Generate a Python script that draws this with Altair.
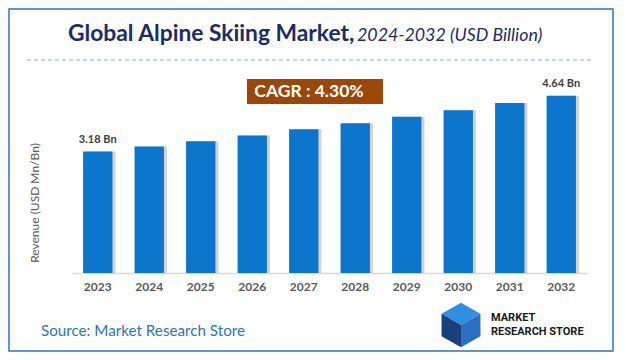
import altair as alt
import pandas as pd

years = ["2023", "2024", "2025", "2026", "2027", "2028", "2029", "2030", "2031", "2032"]
values = [3.18, 3.31, 3.45, 3.60, 3.76, 3.92, 4.09, 4.26, 4.45, 4.64]

title_main = "Global Alpine Skiing Market,"
title_sub = "2024-2032 (USD Billion)"
cagr_text = "CAGR : 4.30%"
y_title = "Revenue (USD Mn/Bn)"
source_text = "Source: Market Research Store"
logo_lines = ["MARKET", "RESEARCH STORE"]

FONT = "Lato"

df = pd.DataFrame({"year": years, "value": values})
ends = df.iloc[[0, -1]].copy()
ends["label"] = ends["value"].map(lambda v: f"{v:.2f} Bn")

x_enc = alt.X(
    "year:N",
    sort=years,
    scale=alt.Scale(paddingInner=0.43, paddingOuter=0.215),
    axis=alt.Axis(
        title=None, labelAngle=0, labelFont=FONT, labelFontWeight="bold",
        labelFontSize=12, labelColor="#595959", ticks=False,
        domainColor="#d9d9d9", domainWidth=1.5, labelPadding=8, grid=False,
    ),
)
y_enc = alt.Y("value:Q", scale=alt.Scale(domain=[0, 5]), axis=None)

shadow = alt.Chart(df).mark_bar(color="#7f7f7f", opacity=0.35, xOffset=3).encode(x=x_enc, y=y_enc)
bars = alt.Chart(df).mark_bar(color="#0b76cc").encode(x=x_enc, y=y_enc)
labels = alt.Chart(ends).mark_text(
    font=FONT, fontSize=11, fontWeight="bold", color="#404040", baseline="bottom", dy=-7
).encode(x=x_enc, y=y_enc, text="label:N")

one = pd.DataFrame({"k": [0]})

border = alt.Chart(one).mark_rect(fill=None, stroke="#2e75b6", strokeWidth=1.5).encode(
    x=alt.value(-63), x2=alt.value(541), y=alt.value(-73), y2=alt.value(269)
)
dash = alt.Chart(one).mark_rule(color="#8fa9d8", strokeDash=[4, 3], strokeWidth=1.2).encode(
    x=alt.value(-45), x2=alt.value(519), y=alt.value(-22)
)
t_main = alt.Chart(one).mark_text(
    text=title_main, font=FONT, fontSize=22.8, fontWeight="bold", color="#1c2b6b",
    align="left", baseline="alphabetic"
).encode(x=alt.value(-4), y=alt.value(-41))
t_sub = alt.Chart(one).mark_text(
    text=title_sub, font=FONT, fontSize=17.8, fontStyle="italic", color="#1c2b6b",
    align="left", baseline="alphabetic"
).encode(x=alt.value(285), y=alt.value(-41))
cagr_box = alt.Chart(one).mark_rect(color="#9a4709").encode(
    x=alt.value(175), x2=alt.value(311), y=alt.value(-3), y2=alt.value(22)
)
cagr = alt.Chart(one).mark_text(
    text=cagr_text, font=FONT, fontSize=17.5, fontWeight="bold", color="white",
    align="center", baseline="middle"
).encode(x=alt.value(237), y=alt.value(10))
ytitle = alt.Chart(one).mark_text(
    text=y_title, font=FONT, fontSize=12, color="#595959", angle=270,
    align="center", baseline="middle"
).encode(x=alt.value(-37), y=alt.value(121))
source = alt.Chart(one).mark_text(
    text=source_text, font=FONT, fontSize=15.2, color="#2e75b6",
    align="left", baseline="alphabetic"
).encode(x=alt.value(-31), y=alt.value(254))

logo_t1 = alt.Chart(one).mark_text(
    text=logo_lines[0], font="Roboto", fontSize=11, fontWeight="bold", color="#1a1a1a",
    align="left", baseline="alphabetic"
).encode(x=alt.value(419), y=alt.value(239))
logo_t2 = alt.Chart(one).mark_text(
    text=logo_lines[1], font="Roboto", fontSize=11, fontWeight="bold", color="#1a1a1a",
    align="left", baseline="alphabetic"
).encode(x=alt.value(419), y=alt.value(252.5))

top_face = "M0,-1 L0.87,-0.5 L0,0 L-0.87,-0.5 Z"
left_face = "M-0.87,-0.5 L0,0 L0,1 L-0.87,0.5 Z"
right_face = "M0,0 L0.87,-0.5 L0.87,0.5 L0,1 Z"
cube = []
for path, col in [(top_face, "#2f8fe0"), (left_face, "#1b3f7a"), (right_face, "#2a6fc0")]:
    cube.append(
        alt.Chart(one).mark_point(shape=path, filled=True, color=col, size=2000, opacity=1).encode(
            x=alt.value(389), y=alt.value(243)
        )
    )

chart = alt.layer(
    border, dash, t_main, t_sub, cagr_box, cagr, ytitle, source,
    shadow, bars, labels, logo_t1, logo_t2, *cube
).properties(
    width=515, height=191,
    autosize=alt.AutoSizeParams(type="none"),
    padding={"left": 64, "top": 74, "right": 29, "bottom": 81},
    background="white",
).configure_view(stroke=None)

chart.save("out.html", embed_options={"renderer": "svg", "actions": False})
